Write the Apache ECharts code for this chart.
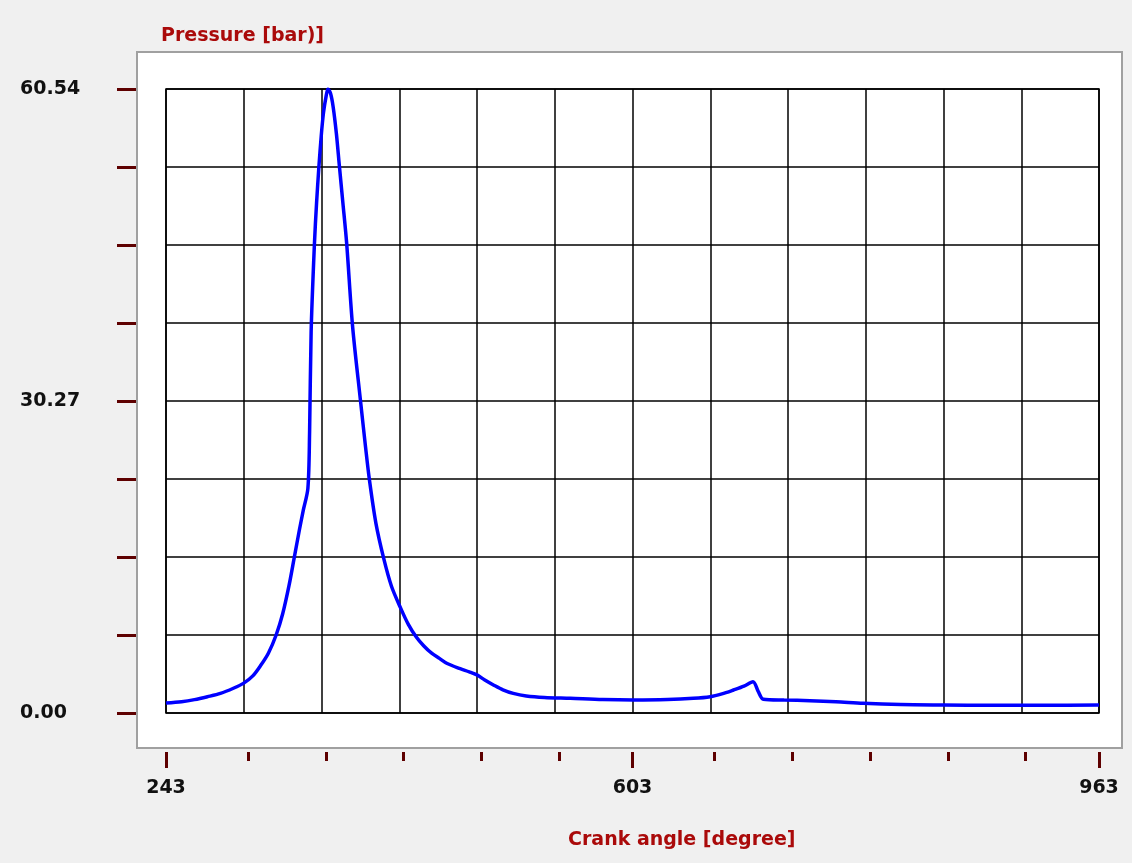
<!DOCTYPE html>
<html>
<head>
<meta charset="utf-8">
<title>Pressure vs crank angle</title>
<script src="https://cdn.jsdelivr.net/npm/echarts@6/dist/echarts.min.js"></script>
<style>
  html, body { margin: 0; padding: 0; background: #f0f0f0; }
  #chart { width: 1132px; height: 863px; }
</style>
</head>
<body>
<div id="chart"></div>
<script>
// crank angle [degree] and cylinder pressure [bar]
const crankAngle = [
  243, 255, 265, 275, 285, 295, 303, 310, 316, 322, 328, 333, 338, 342, 346, 349,
  352.5, 353.8, 355, 357.5, 359.2, 361, 362.8, 364.5, 366.5, 368, 370, 372,
  374.5, 376.7, 379.5, 382.4, 387, 393, 397, 400, 405, 411, 417, 424, 430, 436,
  442, 448, 454, 460, 470, 477, 483, 489, 496, 503, 511, 521, 535, 555, 580, 604,
  630, 650, 663, 672, 681, 689, 696, 700, 704, 720, 740, 760, 781, 810, 843, 880,
  920, 963
];
const pressure = [
  0.97, 1.1, 1.3, 1.58, 1.9, 2.4, 2.9, 3.6, 4.6, 5.8, 7.57, 9.6, 12.4, 15.1, 17.8, 19.7,
  21.8, 27.2, 37.0, 45.4, 49.5, 53.0, 56.0, 58.2, 59.8, 60.54, 60.1, 58.8,
  56.2, 53.2, 49.5, 45.6, 37.5, 30.4, 25.8, 22.6, 18.4, 15.0, 12.3, 10.2, 8.6, 7.4,
  6.5, 5.8, 5.3, 4.8, 4.3, 4.0, 3.7, 3.2, 2.7, 2.25, 1.9, 1.65, 1.5, 1.42, 1.3, 1.26,
  1.3, 1.42, 1.58, 1.85, 2.23, 2.6, 3.04, 2.1, 1.33, 1.25, 1.2, 1.1, 0.94, 0.82, 0.78, 0.75,
  0.75, 0.78
];

// axis ranges and tick labels
const angleStart = 243;
const angleEnd = 963;
const angleStep = 60;
const xTickLabels = ['243', '603', '963'];
const minorAngleTicks = [303, 363, 423, 483, 543, 663, 723, 783, 843, 903];
const pressureMax = 60.54;
const pressureStep = 7.5675;
const yTickLabels = ['0.00', '30.27', '60.54'];

const tickColor = '#5e0000';
const titleColor = '#aa0a0a';
const font = 'DejaVu Sans';
const minorTickShift = 3.3; // the minor marks sit a little right of the grid lines

const chart = echarts.init(document.getElementById('chart'));

const span = angleEnd - angleStart;

chart.setOption({
  backgroundColor: '#f0f0f0',
  animation: false,
  title: [
    {
      text: 'Pressure [bar)]',
      left: 156,
      top: 22,
      textStyle: { fontFamily: font, fontWeight: 'bold', fontSize: 19, color: titleColor }
    },
    {
      text: 'Crank angle [degree]',
      left: 563,
      top: 826,
      textStyle: { fontFamily: font, fontWeight: 'bold', fontSize: 19, color: titleColor }
    }
  ],
  graphic: {
    elements: [
      {
        type: 'rect',
        z: -10,
        silent: true,
        shape: { x: 137, y: 52, width: 985, height: 696 },
        style: { fill: '#ffffff', stroke: '#a0a0a0', lineWidth: 2 }
      }
    ]
  },
  grid: {
    left: 166,
    right: 33,
    top: 89,
    bottom: 150,
    outerBoundsMode: 'none',
    show: true,
    backgroundColor: 'transparent',
    borderColor: '#000',
    borderWidth: 1.5
  },
  xAxis: [
    // data axis
    { type: 'value', min: angleStart, max: angleEnd, show: false, axisLine: { onZero: false } },
    // grid lines every 60 degrees (counted from 0 so the interval lines up)
    {
      type: 'value', min: 0, max: span, interval: angleStep, position: 'bottom',
      axisLine: { show: false, onZero: false }, axisTick: { show: false }, axisLabel: { show: false },
      splitLine: { show: true, lineStyle: { color: '#000', width: 1.5 } }
    },
    // major ticks and labels
    {
      type: 'value', min: 0, max: span, interval: span / 2, position: 'bottom', offset: 39,
      axisLine: { show: false, onZero: false },
      axisTick: { show: true, length: 16, lineStyle: { color: tickColor, width: 3 } },
      axisLabel: {
        margin: 27,
        formatter: (v, i) => xTickLabels[i] || '',
        fontFamily: font, fontWeight: 'bold', fontSize: 19, color: '#111'
      },
      splitLine: { show: false }
    },
    // minor ticks
    {
      type: 'value', min: angleStart, max: angleEnd, position: 'bottom', offset: 39,
      axisLine: { show: false, onZero: false },
      axisTick: {
        show: true, length: 9,
        customValues: minorAngleTicks.map(v => v + minorTickShift),
        lineStyle: { color: tickColor, width: 3 }
      },
      axisLabel: { show: false },
      splitLine: { show: false }
    }
  ],
  yAxis: {
    type: 'value',
    min: 0,
    max: pressureMax,
    interval: pressureStep,
    position: 'left',
    offset: 30,
    axisLine: { show: false, onZero: false },
    axisTick: { show: true, length: 19, lineStyle: { color: tickColor, width: 3 } },
    axisLabel: {
      align: 'left',
      margin: 116,
      formatter: v => yTickLabels.find(l => Math.abs(parseFloat(l) - v) < 0.01) || '',
      fontFamily: font, fontWeight: 'bold', fontSize: 19, color: '#111'
    },
    splitLine: { show: true, lineStyle: { color: '#000', width: 1.5 } }
  },
  series: [
    {
      type: 'line',
      xAxisIndex: 0,
      data: crankAngle.map((a, i) => [a, pressure[i]]),
      showSymbol: false,
      smooth: 0.3,
      lineStyle: { color: '#0000ff', width: 3.5 }
    }
  ]
});
</script>
</body>
</html>
